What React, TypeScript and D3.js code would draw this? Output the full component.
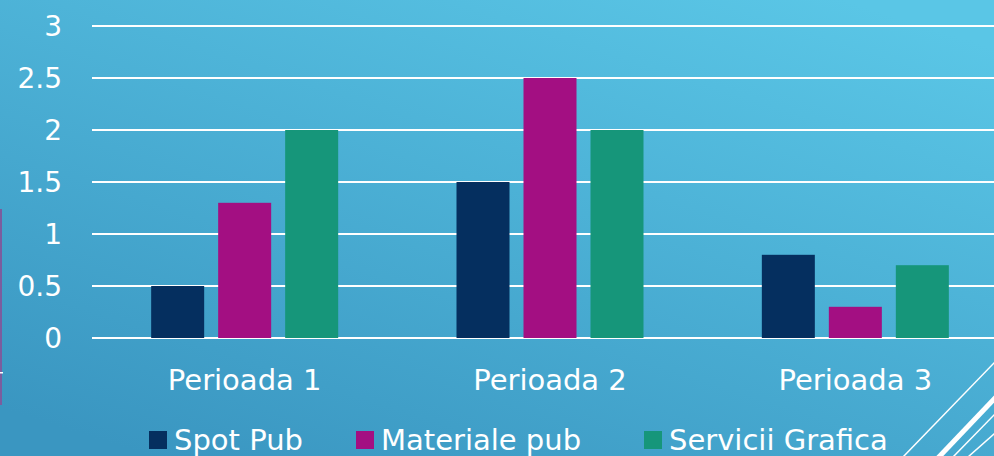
import React, { useEffect, useRef } from "react";
import * as d3 from "d3";

const categories = ["Perioada 1", "Perioada 2", "Perioada 3"];
const seriesNames = ["Spot Pub", "Materiale pub", "Servicii Grafica"];
const spotPub = [0.5, 1.5, 0.8];
const materialePub = [1.3, 2.5, 0.3];
const serviciiGrafica = [2, 2, 0.7];
const yTicks = [0, 0.5, 1, 1.5, 2, 2.5, 3];
const colors = ["#052f5f", "#a30f82", "#16967a"];

const W = 994;
const H = 456;
const FONT = "'DejaVu Sans', sans-serif";

export default function App() {
  const ref = useRef<SVGSVGElement>(null);

  useEffect(() => {
    document.body.style.margin = "0";
    const svg = d3.select(ref.current);
    svg.selectAll("*").remove();

    // background
    const defs = svg.append("defs");
    const grad = defs
      .append("linearGradient")
      .attr("id", "bg")
      .attr("x1", "0.85")
      .attr("y1", "0")
      .attr("x2", "0.15")
      .attr("y2", "1");
    grad.append("stop").attr("offset", "0%").attr("stop-color", "#5ac6e6");
    grad.append("stop").attr("offset", "100%").attr("stop-color", "#3a96c1");
    svg.append("rect").attr("width", W).attr("height", H).attr("fill", "url(#bg)");

    const values = [spotPub, materialePub, serviciiGrafica];

    var x0 = d3.scaleBand().domain(categories).range([92, 1008]);
    var y = d3.scaleLinear().domain([0, 3]).range([338, 26]);
    var x1 = d3.scaleBand().domain(seriesNames).range([0, 187]).paddingInner(14 / 67);

    // gridlines
    svg
      .append("g")
      .selectAll("line")
      .data(yTicks)
      .join("line")
      .attr("x1", 92)
      .attr("x2", W)
      .attr("y1", (d) => y(d))
      .attr("y2", (d) => y(d))
      .attr("stroke", "#ffffff")
      .attr("stroke-width", 2);

    // y tick labels
    svg
      .append("g")
      .selectAll("text")
      .data(yTicks)
      .join("text")
      .attr("x", 62)
      .attr("y", (d) => y(d))
      .attr("dy", "0.36em")
      .attr("text-anchor", "end")
      .attr("fill", "#ffffff")
      .attr("font-family", FONT)
      .attr("font-size", 28)
      .text((d) => String(d));

    // bars
    seriesNames.forEach((s, si) => {
      svg
        .append("g")
        .selectAll("rect")
        .data(categories)
        .join("rect")
        .attr("x", (c) => x0(c)! + x0.bandwidth() / 2 - 93.5 + x1(s)!)
        .attr("y", (c, i) => y(values[si][i]))
        .attr("width", x1.bandwidth())
        .attr("height", (c, i) => y(0) - y(values[si][i]))
        .attr("fill", colors[si]);
    });

    // category labels
    svg
      .append("g")
      .selectAll("text")
      .data(categories)
      .join("text")
      .attr("x", (c) => x0(c)! + x0.bandwidth() / 2)
      .attr("y", 390)
      .attr("text-anchor", "middle")
      .attr("fill", "#ffffff")
      .attr("font-family", FONT)
      .attr("font-size", 29)
      .text((c) => c);

    // legend
    const legendX = [149, 356, 644];
    const lg = svg
      .append("g")
      .selectAll("g")
      .data(seriesNames)
      .join("g")
      .attr("transform", (d, i) => "translate(" + legendX[i] + ",0)");
    lg.append("rect")
      .attr("y", 431)
      .attr("width", 18)
      .attr("height", 18)
      .attr("fill", (d, i) => colors[i]);
    lg.append("text")
      .attr("x", 25)
      .attr("y", 450)
      .attr("fill", "#ffffff")
      .attr("font-family", FONT)
      .attr("font-size", 29)
      .text((d) => d);

    // left edge accent
    svg.append("rect").attr("x", 0).attr("y", 209).attr("width", 2).attr("height", 196).attr("fill", "#7b5d9e");
    svg.append("rect").attr("x", 0).attr("y", 372).attr("width", 3).attr("height", 1.5).attr("fill", "#ffffff");

    // decorative diagonals bottom-right
    const deco = [
      { x1: 903, y1: 457, x2: 995, y2: 362, w: 1.5 },
      { x1: 937, y1: 459, x2: 997, y2: 396, w: 5 },
      { x1: 953, y1: 457, x2: 995, y2: 414, w: 1.5 },
      { x1: 968, y1: 457, x2: 995, y2: 433, w: 1.5 },
    ];
    svg
      .append("g")
      .selectAll("line")
      .data(deco)
      .join("line")
      .attr("x1", (d) => d.x1)
      .attr("y1", (d) => d.y1)
      .attr("x2", (d) => d.x2)
      .attr("y2", (d) => d.y2)
      .attr("stroke", "#ffffff")
      .attr("stroke-width", (d) => d.w);
  }, []);

  return (
    <svg
      ref={ref}
      width={W}
      height={H}
      style={{ position: "fixed", left: 0, top: 0, display: "block" }}
    />
  );
}
